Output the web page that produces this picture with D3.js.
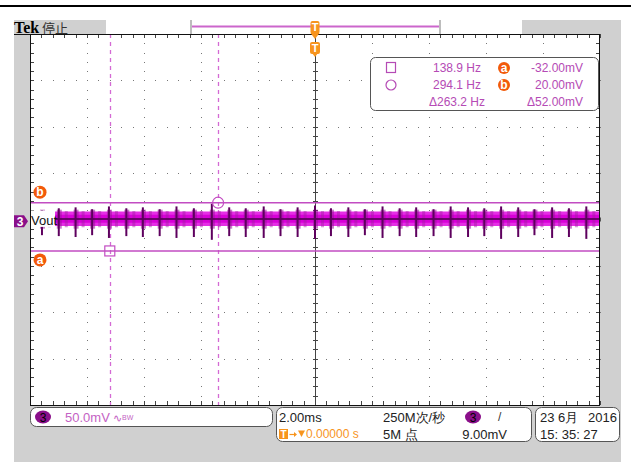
<!DOCTYPE html>
<html><head><meta charset="utf-8">
<script src="https://cdn.jsdelivr.net/npm/d3@7"></script>
<style>
html,body{margin:0;padding:0;background:#fff;}
svg{display:block;}
text{font-family:"Liberation Sans Narrow","Liberation Sans",sans-serif;}
</style></head><body>
<script>
// ---- data ----
const timeDomain = [-10, 10];            // ms (2.00 ms/div, 10 div)
const voltDomain = [-198.1, 201.9];      // mV (50.0 mV/div, 8 div)
const cursorTimes = [-7.2, -3.4];        // ms : square, circle
const cursorVolts = [-32, 20];           // mV : a, b
const spikeTimes = [-9.58,-8.99,-8.40,-7.82,-7.23,-6.62,-6.04,-5.45,-4.86,-4.25,-3.62,-3.01,-2.43,-1.80,-1.21,-0.61,0.00,0.56,1.17,1.75,2.37,2.97,3.55,4.16,4.76,5.37,5.94,6.53,7.13,7.70,8.32,8.91,9.52];
const spikeUp   = [12,14,15,13,16,14,15,13,16,14,19,15,14,16,13,15,17,14,15,13,16,14,15,13,16,15,14,16,15,13,15,14,16];
const spikeDown = [-15,-16,-17,-15,-18,-16,-17,-16,-18,-17,-20,-16,-17,-18,-16,-17,-19,-16,-17,-15,-18,-16,-17,-16,-18,-17,-16,-19,-17,-15,-18,-17,-19];
const bandTimes = [-10, 10];
const bandOuter = [10.5, -5];   // mV envelope
const bandInner = [7, -1.5];
const bandCenter = 2.5;
const bumpRange = [12.5, -8];
const readFreq = ["138.9 Hz", "294.1 Hz", "\u0394263.2 Hz"];
const readVolt = ["-32.00mV", "20.00mV", "\u039452.00mV"];
const statusTexts = {scale:"50.0mV", timebase:"2.00ms", trigPos:"0.00000 s", rate:"250M次/秒", points:"5M 点", trigLevel:"9.00mV", date:"23 6月", year:"2016", time:"15: 35: 27"};

// ---- layout ----
const W = 631, H = 467;
const P = {l:30, r:600, t:34, b:405};
const svg = d3.select("body").append("svg").attr("width", W).attr("height", H);

const x = d3.scaleLinear().domain(timeDomain).range([P.l, P.r]);
const y = d3.scaleLinear().domain(voltDomain).range([P.b, P.t]);
const gx = d3.scaleLinear().domain([0, 10]).range([P.l, P.r]);
const gy = d3.scaleLinear().domain([0, 8]).range([P.b, P.t]);

const PURPLE = "#b54ab5", ORANGE = "#f7941d", RED = "#f25a0a", CH = "#8a0f8a";

// top black rule
svg.append("rect").attr("x",0).attr("y",5).attr("width",W).attr("height",2).attr("fill","#000");
// gray panel
svg.append("rect").attr("x",14).attr("y",20).attr("width",607).attr("height",442).attr("fill","#d0d0d0");
// top record bar
svg.append("rect").attr("x",106).attr("y",20).attr("width",416).attr("height",14).attr("fill","#fff");
svg.append("line").attr("x1",191).attr("x2",191).attr("y1",20).attr("y2",34).attr("stroke","#bdbdbd").attr("stroke-width",2);
svg.append("line").attr("x1",440).attr("x2",440).attr("y1",20).attr("y2",34).attr("stroke","#bdbdbd").attr("stroke-width",2);
svg.append("line").attr("x1",192).attr("x2",439).attr("y1",26.5).attr("y2",26.5).attr("stroke","#cc66cc").attr("stroke-width",2);

// Tek label
svg.append("text").attr("x",14).attr("y",33).style("font-family","'Liberation Serif', serif").attr("font-weight","bold").attr("font-size",16).attr("fill","#000").text("Tek");
svg.append("text").attr("x",42).attr("y",33).attr("font-size",13).attr("fill","#333").style("font-family","'Noto Sans CJK SC'").text("停止");

// plot background
svg.append("rect").attr("x",P.l).attr("y",P.t).attr("width",P.r-P.l).attr("height",P.b-P.t).attr("fill","#fff");

// graticule dots
const g = svg.append("g");
const minorX = d3.range(0, 10.001, 0.2), minorY = d3.range(0, 8.001, 0.2);
for (let i = 1; i < 10; i++) {
  if (i === 5) continue;
  minorY.forEach(v => g.append("rect").attr("x", Math.round(gx(i))).attr("y", Math.round(gy(v))).attr("width",1).attr("height",1).attr("fill","#777"));
}
for (let j = 1; j < 8; j++) {
  minorX.forEach(v => g.append("rect").attr("x", Math.round(gx(v))).attr("y", Math.round(gy(j))).attr("width",1).attr("height",1).attr("fill","#777"));
}
// center lines with ticks
g.append("line").attr("x1",gx(5)+0.5).attr("x2",gx(5)+0.5).attr("y1",P.t).attr("y2",P.b).attr("stroke","#444");
minorY.forEach(v => g.append("line").attr("x1",gx(5)-2).attr("x2",gx(5)+3).attr("y1",Math.round(gy(v))+0.5).attr("y2",Math.round(gy(v))+0.5).attr("stroke","#444"));
minorX.forEach(v => g.append("line").attr("x1",Math.round(gx(v))+0.5).attr("x2",Math.round(gx(v))+0.5).attr("y1",gy(4)-2).attr("y2",gy(4)+2).attr("stroke","#555"));
// edge ticks
minorX.forEach(v => {
  g.append("line").attr("x1",Math.round(gx(v))+0.5).attr("x2",Math.round(gx(v))+0.5).attr("y1",P.t).attr("y2",P.t+4).attr("stroke","#444");
  g.append("line").attr("x1",Math.round(gx(v))+0.5).attr("x2",Math.round(gx(v))+0.5).attr("y1",P.b-4).attr("y2",P.b).attr("stroke","#444");
});
minorY.forEach(v => {
  g.append("line").attr("y1",Math.round(gy(v))+0.5).attr("y2",Math.round(gy(v))+0.5).attr("x1",P.l).attr("x2",P.l+4).attr("stroke","#444");
  g.append("line").attr("y1",Math.round(gy(v))+0.5).attr("y2",Math.round(gy(v))+0.5).attr("x1",P.r-4).attr("x2",P.r).attr("stroke","#444");
});

// vertical cursors (dashed)
svg.selectAll(".vc").data(cursorTimes).enter().append("line")
  .attr("x1", d => Math.round(x(d))+0.5).attr("x2", d => Math.round(x(d))+0.5)
  .attr("y1", P.t).attr("y2", P.b).attr("stroke","#d46ad4").attr("stroke-width",1.3).attr("stroke-dasharray","4,4");

// trace band
const bandData = bandTimes.map((t,i) => ({t, o:bandOuter, n:bandInner}));
svg.append("path").datum(bandData).attr("d", d3.area().x(d=>x(d.t)).y0(d=>y(d.o[0])).y1(d=>y(d.o[1]))).attr("fill","#e52ee5");
svg.append("path").datum(bandData).attr("d", d3.area().x(d=>x(d.t)).y0(d=>y(d.n[0])).y1(d=>y(d.n[1]))).attr("fill","#d800d8");
// bumps around spikes
svg.selectAll(".bump").data(spikeTimes).enter().append("rect")
  .attr("x", d => x(d)-2).attr("width", 5).attr("y", y(bumpRange[0])).attr("height", y(bumpRange[1])-y(bumpRange[0]))
  .attr("fill","#9a109a").attr("opacity",0.55);
svg.selectAll(".bump2").data(spikeTimes).enter().append("rect")
  .attr("x", d => x(d)+6).attr("width", 3).attr("y", y(bumpRange[0]-1.5)).attr("height", y(bumpRange[1]+1.5)-y(bumpRange[0]-1.5))
  .attr("fill","#a020a0").attr("opacity",0.45);
// center line
svg.append("line").attr("x1",P.l).attr("x2",P.r).attr("y1",y(bandCenter)).attr("y2",y(bandCenter)).attr("stroke","#4a004a").attr("stroke-width",1.5);
// spikes
svg.selectAll(".sp").data(spikeTimes).enter().append("line")
  .attr("x1", d => x(d)).attr("x2", d => x(d))
  .attr("y1", (d,i) => y(spikeUp[i])).attr("y2", (d,i) => y(spikeDown[i]))
  .attr("stroke","#5e005e").attr("stroke-width",2);

// horizontal cursors
svg.selectAll(".hc").data(cursorVolts).enter().append("line")
  .attr("x1", P.l).attr("x2", P.r).attr("y1", d => y(d)).attr("y2", d => y(d))
  .attr("stroke","#c24cc2").attr("stroke-width",1.5);
// cursor markers
svg.append("rect").attr("x", x(cursorTimes[0])-5).attr("y", y(cursorVolts[0])-5).attr("width",10).attr("height",10)
  .attr("fill","none").attr("stroke","#c24cc2").attr("stroke-width",1.2);
svg.append("circle").attr("cx", x(cursorTimes[1])).attr("cy", y(cursorVolts[1])).attr("r",5.5)
  .attr("fill","none").attr("stroke","#c24cc2").attr("stroke-width",1.2);

// plot frame
svg.append("line").attr("x1",14).attr("x2",P.r).attr("y1",P.t+0.5).attr("y2",P.t+0.5).attr("stroke","#111");
svg.append("rect").attr("x",P.l+0.5).attr("y",P.t+0.5).attr("width",P.r-P.l-1).attr("height",P.b-P.t).attr("fill","none").attr("stroke","#111");

// Vout label with white backing
svg.append("rect").attr("x",P.l+1).attr("y",y(bandOuter[0])-1).attr("width",24).attr("height",y(bandOuter[1])-y(bandOuter[0])+2).attr("fill","#fff");
svg.append("text").attr("x",31).attr("y",225).attr("font-size",13).attr("fill","#111").text("Vout");
// channel 3 ground marker
const gy0 = y(0);
svg.append("path").attr("d",`M14,${gy0-6} L24,${gy0-6} L28,${gy0} L24,${gy0+6} L14,${gy0+6} Z`).attr("fill",CH);
svg.append("text").attr("x",20).attr("y",gy0+4.5).attr("text-anchor","middle").attr("font-size",12).attr("font-weight","bold").attr("fill","#fff").text("3");

// a / b labels
[["b", 20, -10.5], ["a", -32, 9]].forEach(([lab, v, off]) => {
  svg.append("circle").attr("cx",40).attr("cy",y(v)+off).attr("r",6.5).attr("fill",RED);
  svg.append("text").attr("x",40).attr("y",y(v)+off+4).attr("text-anchor","middle").attr("font-size",12).attr("font-weight","bold").attr("fill","#fff").text(lab);
});

// trigger markers
const tx = x(0);
svg.append("rect").attr("x",tx-4.5).attr("y",21).attr("width",9).attr("height",13).attr("rx",2).attr("fill",ORANGE);
svg.append("path").attr("d",`M${tx-4.5},33 L${tx+4.5},33 L${tx},39 Z`).attr("fill",ORANGE);
svg.append("text").attr("x",tx).attr("y",31).attr("text-anchor","middle").attr("font-size",11).attr("font-weight","bold").attr("fill","#fff").text("T");
svg.append("rect").attr("x",tx-5).attr("y",42).attr("width",10).attr("height",12).attr("rx",2).attr("fill",ORANGE);
svg.append("path").attr("d",`M${tx-3},53 L${tx+3},53 L${tx},57 Z`).attr("fill",ORANGE);
svg.append("text").attr("x",tx).attr("y",52).attr("text-anchor","middle").attr("font-size",11).attr("font-weight","bold").attr("fill","#fff").text("T");

// readout box
svg.append("rect").attr("x",370.5).attr("y",57.5).attr("width",228).attr("height",53).attr("rx",5).attr("fill","#fff").attr("stroke","#555");
svg.append("rect").attr("x",386.5).attr("y",62.5).attr("width",9).attr("height",10).attr("fill","none").attr("stroke",PURPLE).attr("stroke-width",1.2);
svg.append("circle").attr("cx",391).attr("cy",85).attr("r",5).attr("fill","none").attr("stroke",PURPLE).attr("stroke-width",1.2);
const rowY = [72, 89, 106];
readFreq.forEach((s,i) => svg.append("text").attr("x",457).attr("y",rowY[i]).attr("text-anchor","middle").attr("font-size",12).attr("fill",PURPLE).text(s));
readVolt.forEach((s,i) => svg.append("text").attr("x",583).attr("y",rowY[i]).attr("text-anchor","end").attr("font-size",12).attr("fill",PURPLE).text(s));
["a","b"].forEach((lab,i) => {
  svg.append("circle").attr("cx",504).attr("cy",rowY[i]-4).attr("r",6).attr("fill",RED);
  svg.append("text").attr("x",504).attr("y",rowY[i]).attr("text-anchor","middle").attr("font-size",12).attr("font-weight","bold").attr("fill","#fff").text(lab);
});

// status boxes
svg.append("rect").attr("x",30.5).attr("y",407.5).attr("width",242).attr("height",19).attr("rx",6).attr("fill","#fff").attr("stroke","#555");
svg.append("rect").attr("x",276.5).attr("y",407.5).attr("width",255).attr("height",34).attr("rx",6).attr("fill","#fff").attr("stroke","#555");
svg.append("rect").attr("x",535.5).attr("y",407.5).attr("width",84).attr("height",34).attr("rx",6).attr("fill","#fff").attr("stroke","#555");

svg.append("ellipse").attr("cx",43).attr("cy",417).attr("rx",8).attr("ry",6.5).attr("fill",CH);
svg.append("text").attr("x",43).attr("y",421.5).attr("text-anchor","middle").attr("font-size",12).attr("fill","#000").text("3");
svg.append("text").attr("x",65).attr("y",422).attr("font-size",13).attr("fill","#c462c4").text(statusTexts.scale);
svg.append("text").attr("x",113).attr("y",422).attr("font-size",11).attr("fill","#c462c4").text("\u223F");
svg.append("text").attr("x",122).attr("y",420).attr("font-size",7).attr("fill","#c462c4").text("BW");

svg.append("text").attr("x",279).attr("y",422).attr("font-size",13).attr("fill","#222").text(statusTexts.timebase);
svg.append("rect").attr("x",279).attr("y",429).attr("width",9).attr("height",10).attr("fill",ORANGE);
svg.append("text").attr("x",283.5).attr("y",438).attr("text-anchor","middle").attr("font-size",10).attr("font-weight","bold").attr("fill","#fff").text("T");
svg.append("path").attr("d","M289.5,434.5 L295,434.5").attr("stroke",ORANGE).attr("stroke-width",1.2);
svg.append("path").attr("d","M294,432 L297,434.5 L294,437 Z").attr("fill",ORANGE);
svg.append("path").attr("d","M298,430.5 L305,430.5 L301.5,437 Z").attr("fill",ORANGE);
svg.append("text").attr("x",306).attr("y",438).attr("font-size",12).attr("fill",ORANGE).text(statusTexts.trigPos);
svg.append("text").attr("x",383).attr("y",422).attr("font-size",13).attr("fill","#222").text(statusTexts.rate);
svg.append("text").attr("x",383).attr("y",439).attr("font-size",13).attr("fill","#222").text(statusTexts.points);
svg.append("ellipse").attr("cx",473).attr("cy",417).attr("rx",8).attr("ry",6.5).attr("fill",CH);
svg.append("text").attr("x",473).attr("y",421.5).attr("text-anchor","middle").attr("font-size",12).attr("fill","#000").text("3");
svg.append("text").attr("x",498).attr("y",421).attr("font-size",12).attr("fill","#333").text("/");
svg.append("text").attr("x",507).attr("y",439).attr("text-anchor","end").attr("font-size",13).attr("fill","#222").text(statusTexts.trigLevel);

svg.append("text").attr("x",540).attr("y",422).attr("font-size",13).attr("fill","#222").text(statusTexts.date);
svg.append("text").attr("x",617).attr("y",422).attr("text-anchor","end").attr("font-size",13).attr("fill","#222").text(statusTexts.year);
svg.append("text").attr("x",540).attr("y",439).attr("font-size",13).attr("fill","#222").text(statusTexts.time);
</script>
</body></html>
